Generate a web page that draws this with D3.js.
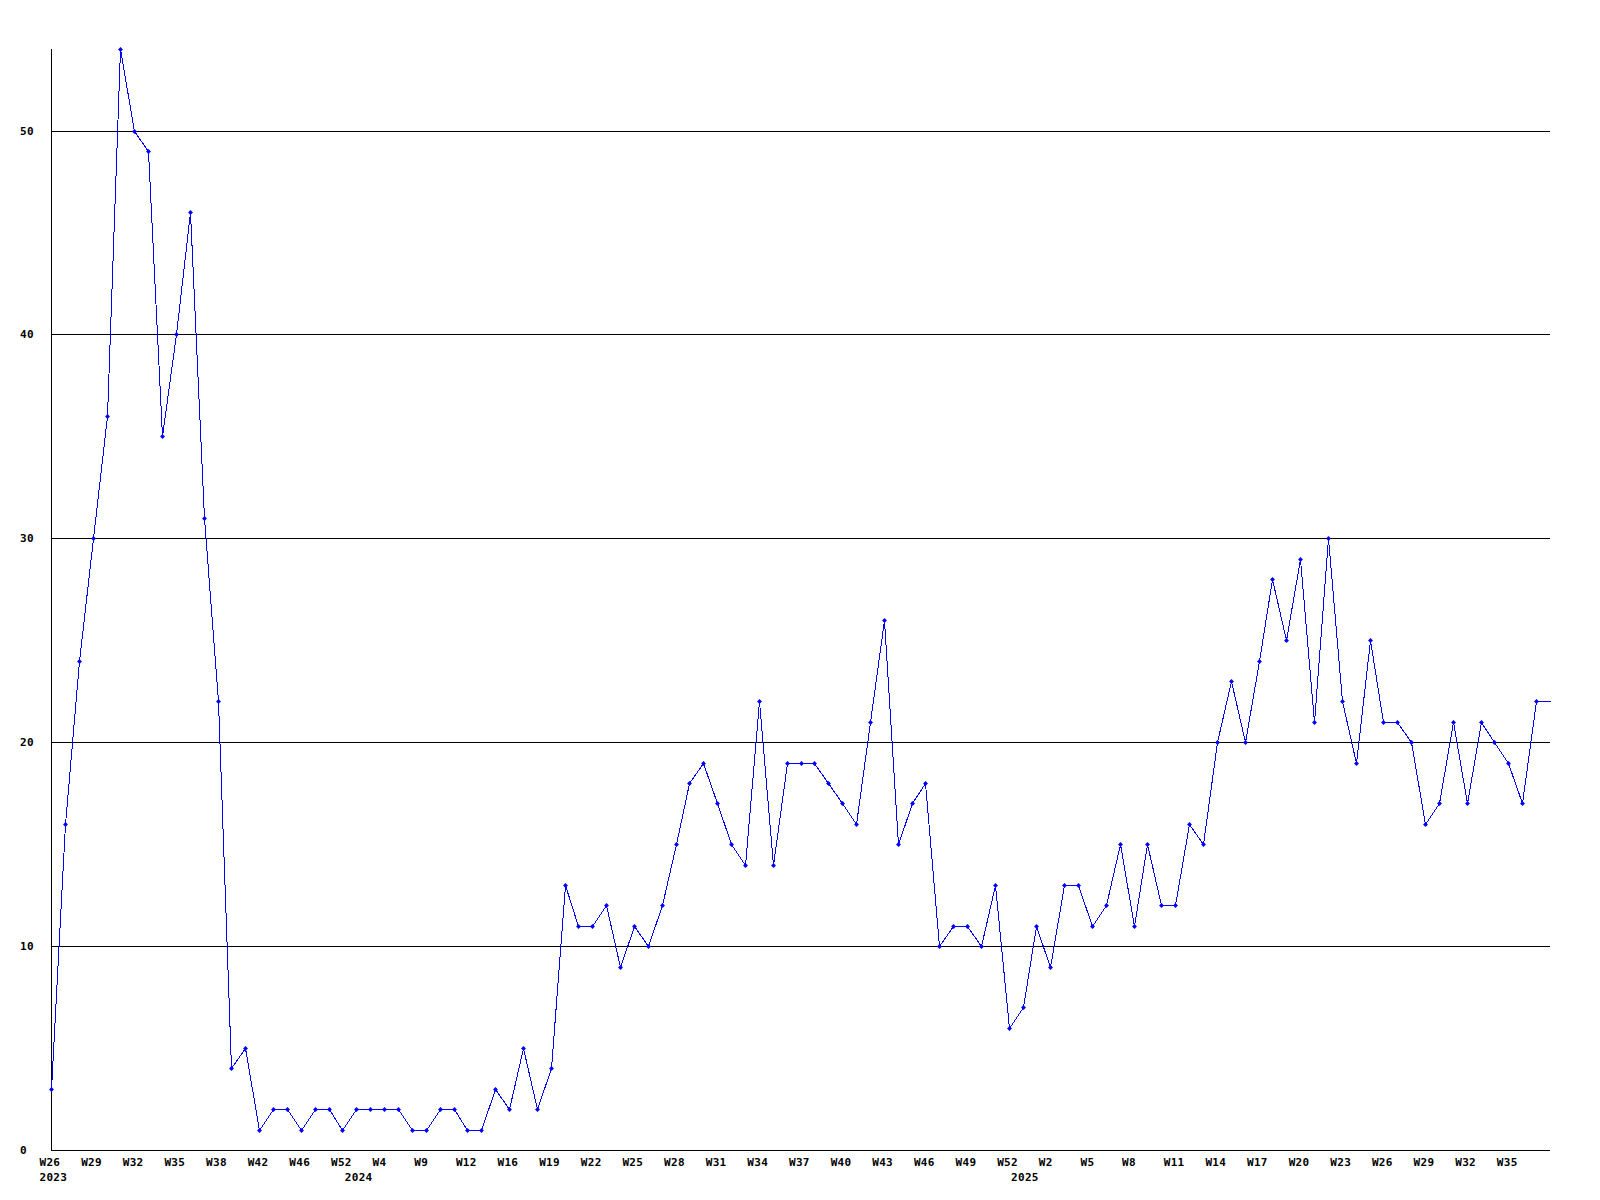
<!DOCTYPE html>
<html>
<head>
<meta charset="utf-8">
<script src="https://cdn.jsdelivr.net/npm/d3@7"></script>
<style>
  html, body { margin: 0; padding: 0; background: #ffffff; }
  svg { display: block; }
  text { font-family: "DejaVu Sans Mono", "Liberation Mono", monospace; font-weight: bold; font-size: 11px; letter-spacing: 0.3px; fill: #000; }
</style>
</head>
<body>
<svg id="chart" width="1600" height="1200"></svg>
<script>
// ---- data ----
const values = [
  3,16,24,30,36,54,50,49,35,40,46,31,22,
  4,5,1,2,2,1,2,2,1,2,2,2,2,1,1,2,2,1,1,3,2,5,2,4,13,11,11,
  12,9,11,10,12,15,18,19,17,15,14,22,14,19,19,19,18,17,16,21,26,15,17,18,10,11,11,10,13,6,7,11,9,13,13,11,
  12,15,11,15,12,12,16,15,20,23,20,24,28,25,29,21,30,22,19,25,21,21,20,16,17,21,17,21,20,19,17,22
];
const weekTickLabels = ["W26","W29","W32","W35","W38","W42","W46","W52","W4","W9","W12","W16",
  "W19","W22","W25","W28","W31","W34","W37","W40","W43","W46","W49","W52","W2","W5","W8","W11",
  "W14","W17","W20","W23","W26","W29","W32","W35"];
const tickEvery = 3;
const yearLabels = ["2023","2024","2025"];
const yearStartIndex = [0,22,70];
const yTicks = [0,10,20,30,40,50];

// ---- layout ----
const svg = d3.select("#chart");
const plotLeft = 51, plotRight = 1550, plotTop = 49, plotBottom = 1150;
const n = values.length;

const x = d3.scaleLinear().domain([0, n]).range([plotLeft, plotRight]);
const y = d3.scaleLinear().domain([0, d3.max(values)]).range([plotBottom, plotTop]);

// gridlines
svg.append("g").selectAll("line").data(yTicks.filter(d => d > 0)).join("line")
  .attr("x1", plotLeft).attr("x2", plotRight)
  .attr("y1", d => Math.round(y(d)) + 0.5).attr("y2", d => Math.round(y(d)) + 0.5)
  .attr("stroke", "#000").attr("stroke-width", 1);

// axes lines
svg.append("line").attr("x1", plotLeft + 0.5).attr("x2", plotLeft + 0.5)
  .attr("y1", plotTop).attr("y2", plotBottom + 0.5).attr("stroke", "#000");
svg.append("line").attr("x1", plotLeft).attr("x2", plotRight)
  .attr("y1", plotBottom + 0.5).attr("y2", plotBottom + 0.5).attr("stroke", "#000");

// y labels
svg.append("g").selectAll("text").data(yTicks).join("text")
  .attr("x", 20).attr("y", d => y(d) + 4)
  .text(d => d);

// x week labels
svg.append("g").selectAll("text").data(weekTickLabels).join("text")
  .attr("x", (d, i) => x(i * tickEvery) - 11.5)
  .attr("y", 1166)
  .text(d => d);

// year labels
svg.append("g").selectAll("text").data(yearLabels).join("text")
  .attr("x", (d, i) => x(yearStartIndex[i]) - 11.5)
  .attr("y", 1181)
  .text(d => d);

// line (last value carried to the right edge)
const linePts = values.map((v, i) => [i, v]).concat([[n, values[n - 1]]]);
svg.append("path")
  .attr("d", d3.line().x(d => Math.round(x(d[0])) + 0.5).y(d => Math.round(y(d[1])) + 0.5)(linePts))
  .attr("fill", "none").attr("stroke", "#0000ff").attr("stroke-width", 1)
  .attr("shape-rendering", "crispEdges");

// markers (small diamonds)
svg.append("g").selectAll("path").data(values).join("path")
  .attr("transform", (d, i) => `translate(${Math.round(x(i)) + 0.5},${Math.round(y(d)) + 0.5}) rotate(45)`)
  .attr("d", d3.symbol().type(d3.symbolSquare).size(12))
  .attr("fill", "#0000ff");
</script>
</body>
</html>
